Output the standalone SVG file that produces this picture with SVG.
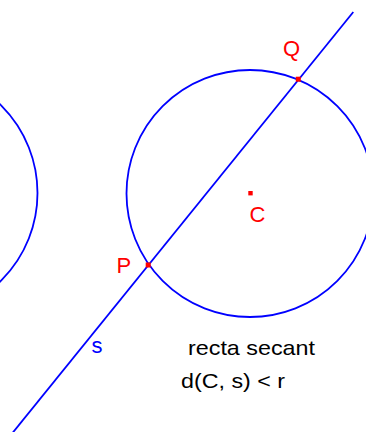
<svg xmlns="http://www.w3.org/2000/svg" width="366" height="432" viewBox="0 0 366 432">
<style>
.curve{fill:none;stroke:#0000ff;stroke-width:1.8}
.pt{fill:#ff0000}
.lbl{font-family:"Liberation Sans",Arial,sans-serif;font-size:22px;fill:#ff0000}
.lbls{font-family:"Liberation Sans",Arial,sans-serif;font-size:22px;fill:#0000ff}
.txt{font-family:"Liberation Sans",Arial,sans-serif;font-size:21px;fill:#000000}
</style>
<rect width="366" height="432" fill="#ffffff"/>
<g id="circle-left"><circle class="curve" cx="-86" cy="193" r="123.5"/></g>
<g id="circle-C"><circle class="curve" cx="250" cy="193.5" r="123.5"/></g>
<g id="connectors">
<line id="line-s" class="curve" x1="353.3" y1="12" x2="6.8" y2="440"/>
</g>
<g id="point-C"><rect class="pt" x="248.3" y="191" width="4.4" height="4.4"/><text class="lbl" x="249.5" y="221.5">C</text></g>
<g id="point-P"><rect class="pt" x="145.7" y="262.5" width="5" height="5"/><text class="lbl" x="116.5" y="273">P</text></g>
<g id="point-Q"><rect class="pt" x="295.8" y="76.7" width="5" height="5"/><text class="lbl" x="283" y="55.5">Q</text></g>
<g id="label-s"><text class="lbls" x="91.5" y="353">s</text></g>
<g id="caption">
<text class="txt" x="188" y="355" textLength="127" lengthAdjust="spacingAndGlyphs">recta secant</text>
<text class="txt" x="181" y="388" textLength="104" lengthAdjust="spacingAndGlyphs">d(C, s) &lt; r</text>
</g>
</svg>
